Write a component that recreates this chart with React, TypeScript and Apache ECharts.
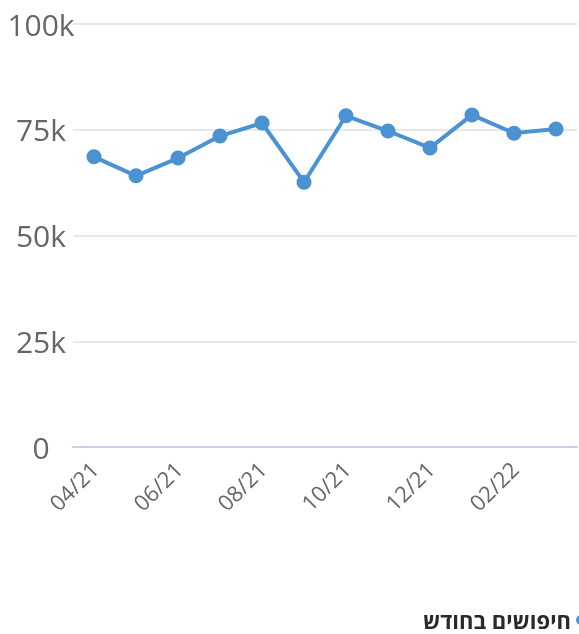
import React, { useEffect, useRef } from "react";
import * as echarts from "echarts";

const categories = ["04/21", "05/21", "06/21", "07/21", "08/21", "09/21", "10/21", "11/21", "12/21", "01/22", "02/22", "03/22"];
const searches = [68600, 64100, 68300, 73500, 76600, 62600, 78300, 74700, 70700, 78500, 74200, 75200];
const seriesName = "חיפושים בחודש";

export default function App() {
  const ref = useRef<HTMLDivElement>(null);
  useEffect(() => {
    const chart = echarts.init(ref.current!, null, { renderer: "svg" });
    chart.setOption({
      animation: false,
      legend: {
        data: [seriesName],
        right: -12,
        bottom: 0,
        padding: [0, 5, 2, 5],
        align: "right",
        icon: "circle",
        itemWidth: 10,
        itemHeight: 10,
        itemGap: 5,
        textStyle: { fontFamily: "Open Sans", fontWeight: "bold", fontSize: 22, lineHeight: 24, color: "#2a2a2a" },
      },
      grid: { left: 73, right: 2, top: 24, bottom: 187, containLabel: false },
      xAxis: {
        type: "category",
        data: categories,
        boundaryGap: true,
        axisLine: { lineStyle: { color: "#c8d0ea", width: 2 } },
        axisTick: { alignWithLabel: true, interval: 1, length: 8, lineStyle: { color: "#c8d0ea", width: 2 } },
        axisLabel: { interval: 1, rotate: 45, fontFamily: "Open Sans", fontSize: 22, color: "#666", margin: 18 },
      },
      yAxis: {
        type: "value",
        min: 0,
        max: 100000,
        interval: 25000,
        axisLabel: {
          fontFamily: "Open Sans",
          fontSize: 30,
          color: "#666",
          margin: 32,
          align: "center",
          formatter: (v: number) => (v === 0 ? "0" : v / 1000 + "k"),
        },
        splitLine: { lineStyle: { color: "#e0e0e0", width: 1.5 } },
      },
      series: [
        {
          name: seriesName,
          type: "line",
          data: searches,
          symbol: "circle",
          symbolSize: 15,
          itemStyle: { color: "#4a92d2" },
          lineStyle: { color: "#4a92d2", width: 4 },
        },
      ],
    });
    return () => chart.dispose();
  }, []);
  return <div ref={ref} style={{ position: "fixed", left: 0, top: 0, width: 579, height: 634 }} />;
}
